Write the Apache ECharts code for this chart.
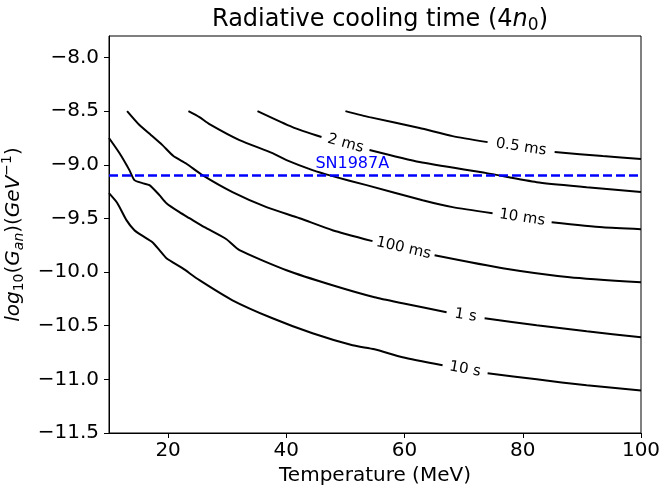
<!DOCTYPE html>
<html>
<head>
<meta charset="utf-8">
<script src="https://cdn.jsdelivr.net/npm/echarts@6/dist/echarts.min.js"></script>
<style>html,body{margin:0;padding:0;background:#fff}#c{width:662px;height:489px}</style>
</head>
<body>
<div id="c"></div>
<script>
// ---------- data ----------
const xRange = [10, 100];
const yRange = [-11.5, -7.8];
const xTickValues = [20, 40, 60, 80, 100];
const yTickValues = [-11.5, -11.0, -10.5, -10.0, -9.5, -9.0, -8.5, -8.0];

const contourLabels = ['0.5 ms', '2 ms', '10 ms', '100 ms', '1 s', '10 s'];
// null = gap where the inline contour label sits
const curve05ms = [[50.0,-8.500],[54.07,-8.556],[62.54,-8.658],[68.13,-8.733],[74.05,-8.789],null,[85.39,-8.882],[93.52,-8.919],[100,-8.947]];
const curve2ms = [[35.12,-8.500],[41.04,-8.649],[45.95,-8.742],null,[54.07,-8.863],[62.54,-8.975],[73.88,-9.078],[82.35,-9.162],[90.81,-9.209],[100,-9.255]];
const curve10ms = [[23.44,-8.500],[25.30,-8.556],[26.99,-8.621],[32.07,-8.770],[37.66,-8.891],[40.03,-8.957],[44.43,-9.050],[47.81,-9.106],[53.57,-9.190],[63.05,-9.330],[68.13,-9.395],[74.89,-9.451],null,[84.88,-9.535],[93.52,-9.582],[100,-9.600]];
const curve100ms = [[13.06,-8.500],[15.15,-8.630],[17.13,-8.724],[19.04,-8.817],[20.90,-8.919],[23.05,-8.988],[25.81,-9.097],[30.89,-9.255],[36.64,-9.395],[42.23,-9.498],[47.81,-9.610],[54.58,-9.712],null,[65.08,-9.843],[76.59,-9.964],[87.93,-10.048],[100,-10.095]];
const curve1s = [[10.0,-8.751],[11.76,-8.891],[13.45,-9.050],[14.30,-9.143],[15.65,-9.171],[16.84,-9.190],[18.53,-9.283],[19.72,-9.358],[21.92,-9.442],[23.61,-9.498],[26.15,-9.582],[29.87,-9.694],[32.07,-9.796],[40.03,-9.983],[47.81,-10.123],[54.92,-10.235],[59.66,-10.291],[67.11,-10.375],null,[73.54,-10.431],[82.35,-10.496],[90.81,-10.552],[100,-10.608]];
const curve10s = [[10.0,-9.265],[11.42,-9.358],[12.95,-9.516],[14.30,-9.610],[15.48,-9.656],[17.35,-9.722],[18.53,-9.796],[19.72,-9.871],[22.42,-9.964],[25.30,-10.076],[30.89,-10.263],[37.66,-10.431],[44.43,-10.571],[51.20,-10.683],[54.92,-10.720],[59.66,-10.794],[66.43,-10.869],null,[74.05,-10.944],[82.35,-11.000],[90.81,-11.056],[100,-11.103]];
const curves = [curve05ms, curve2ms, curve10ms, curve100ms, curve1s, curve10s];

const snName = 'SN1987A';
const snLevel = -9.1;
const snLabelX = 45;

// ---------- chart ----------
const FONT = 'DejaVu Sans';
const chart = echarts.init(document.getElementById('c'), null, {renderer: 'canvas'});
const fmtMinus = v => String(v).replace('-', '\u2212');

const lineSeries = curves.map((c, i) => ({
  type: 'line',
  name: contourLabels[i],
  data: c.map(p => p ? p : [NaN, NaN]),
  showSymbol: false,
  symbol: 'none',
  connectNulls: false,
  smooth: 0.2,
  lineStyle: {color: '#000', width: 2},
  silent: true,
  z: 2
}));

const option = {
  animation: false,
  backgroundColor: '#fff',
  title: {
    text: '{a|Radiative cooling time (4}{i|n}{s|0}{a|)}',
    left: 375, top: 0, textAlign: 'center',
    textStyle: {
      fontWeight: 'normal',
      rich: {
        a: {fontSize: 24, fontFamily: FONT, fontWeight: 'normal', color: '#000'},
        i: {fontSize: 24, fontFamily: FONT, fontWeight: 'normal', fontStyle: 'italic', color: '#000'},
        s: {fontSize: 17, fontFamily: FONT, fontWeight: 'normal', color: '#000', padding: [12, 0, 0, 0]}
      }
    }
  },
  grid: {left: 109, right: 21, top: 36, bottom: 56, outerBoundsMode: 'none', containLabel: false,
    show: true, borderColor: '#000', borderWidth: 1, backgroundColor: 'transparent'},
  xAxis: {
    type: 'value', min: xRange[0], max: xRange[1],
    name: 'Temperature (MeV)', nameLocation: 'middle', nameGap: 25,
    nameTextStyle: {fontSize: 20, fontFamily: FONT, color: '#000'},
    axisLine: {show: true, onZero: false, lineStyle: {color: '#000', width: 1}},
    axisTick: {show: true, length: 5, customValues: xTickValues, lineStyle: {color: '#000', width: 1}},
    axisLabel: {customValues: xTickValues, fontSize: 20, fontFamily: FONT, color: '#000', margin: 8, formatter: fmtMinus},
    splitLine: {show: false}
  },
  yAxis: {
    type: 'value', min: yRange[0], max: yRange[1],
    name: '{i|log}{sub|10}{n|(}{i|G}{isub|an}{n|)(}{i|GeV}{sup|\u22121}{n|)}',
    nameLocation: 'middle', nameGap: 80, nameRotate: 90,
    nameTextStyle: {
      rich: {
        i: {fontSize: 20, fontFamily: FONT, fontStyle: 'italic', color: '#000'},
        n: {fontSize: 20, fontFamily: FONT, color: '#000'},
        sub: {fontSize: 14, fontFamily: FONT, color: '#000', padding: [12, 0, 0, 0]},
        isub: {fontSize: 14, fontFamily: FONT, fontStyle: 'italic', color: '#000', padding: [12, 0, 0, 0]},
        sup: {fontSize: 14, fontFamily: FONT, color: '#000', padding: [0, 0, 12, 0]}
      }
    },
    axisLine: {show: true, onZero: false, lineStyle: {color: '#000', width: 1}},
    axisTick: {show: true, length: 5, customValues: yTickValues, lineStyle: {color: '#000', width: 1}},
    axisLabel: {customValues: yTickValues, fontSize: 20, fontFamily: FONT, color: '#000', margin: 10,
      formatter: v => fmtMinus(Number(v).toFixed(1))},
    splitLine: {show: false}
  },
  series: lineSeries.concat([
    {
      type: 'line', name: snName,
      data: [[xRange[0], snLevel], [xRange[1], snLevel]],
      showSymbol: false, symbol: 'none', silent: true,
      lineStyle: {color: '#0000ff', width: 2.5, type: [9, 4]},
      z: 3
    },
    {
      type: 'scatter', silent: true, symbolSize: 1, itemStyle: {color: 'rgba(0,0,0,0)'},
      data: [{name: snName, value: [snLabelX, snLevel]}],
      label: {show: true, position: [0, 0], align: 'left', verticalAlign: 'bottom', offset: [0, -3],
        formatter: p => p.name, color: '#0000ff', opacity: 1, textBorderWidth: 0, fontSize: 16, fontFamily: FONT},
      z: 4
    }
  ])
};
chart.setOption(option);

// place inline contour labels in the gaps, rotated along the curve
const labelData = curves.map((c, i) => {
  const g = c.indexOf(null);
  const a = c[g - 1], b = c[g + 1];
  const pa = chart.convertToPixel({gridIndex: 0}, a);
  const pb = chart.convertToPixel({gridIndex: 0}, b);
  const ang = -Math.atan2(pb[1] - pa[1], pb[0] - pa[0]) * 180 / Math.PI;
  return {
    name: contourLabels[i],
    value: [(a[0] + b[0]) / 2, (a[1] + b[1]) / 2],
    label: {rotate: ang}
  };
});
chart.setOption({
  series: option.series.concat([{
    type: 'scatter', silent: true, symbolSize: 1, itemStyle: {color: 'rgba(0,0,0,0)'},
    data: labelData,
    label: {show: true, position: 'inside', align: 'center', verticalAlign: 'middle',
      formatter: p => p.name, color: '#000', opacity: 1, textBorderWidth: 0, fontSize: 15, fontFamily: FONT},
    z: 5
  }])
});
</script>
</body>
</html>
